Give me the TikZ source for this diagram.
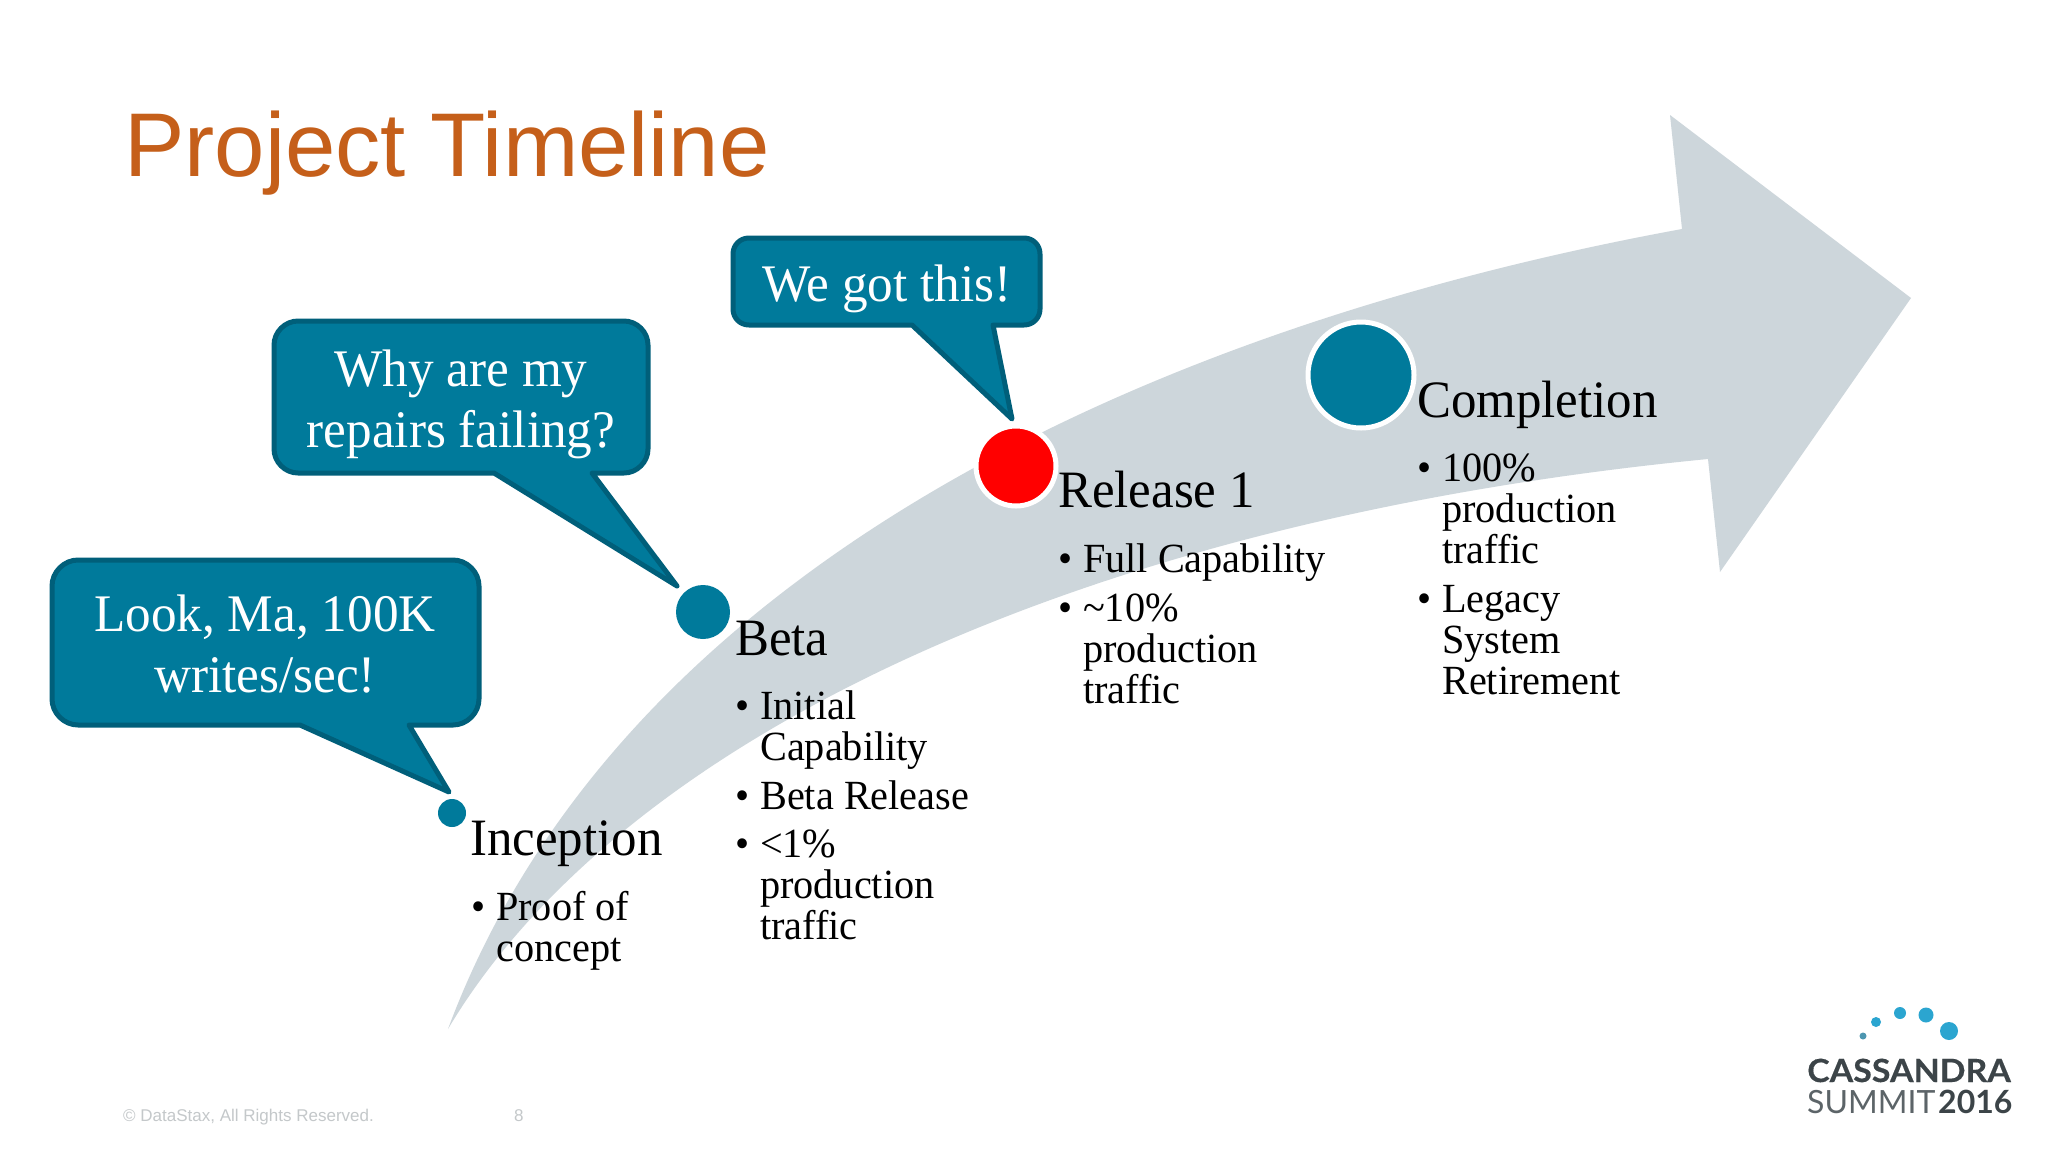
\documentclass[tikz,border=0pt]{standalone}
\usepackage{fontspec}
\setmainfont[FakeStretch=0.97]{Liberation Serif}
\newfontfamily\arialf{Liberation Sans}
\newfontfamily\logof{Lato}
\newfontfamily\logow[FakeStretch=1.06,FakeBold=0.3]{Lato Bold}
\definecolor{teal1}{HTML}{007A9B}
\definecolor{teal2}{HTML}{005F7A}
\definecolor{arrowgrey}{HTML}{CDD6DB}
\definecolor{titlec}{HTML}{C55F1A}
\definecolor{footc}{HTML}{C4C8CA}
\definecolor{logod}{HTML}{3C4448}
\definecolor{logom}{HTML}{5C6468}
\definecolor{logob}{HTML}{2BA5D0}
\newcommand{\bul}{\makebox[25pt][l]{•}}
\newcommand{\ind}{\hspace*{25pt}}
\tikzset{
  x=1pt,y=-1pt,
  callout/.style={fill=teal1,draw=teal2,line width=5pt,line join=round},
  calltext/.style={text=white,font=\fontsize{52.8}{61}\selectfont,align=center,inner sep=0pt},
  milestone/.style={circle,fill=teal1,inner sep=0pt,draw=white},
  heading/.style={anchor=base west,inner sep=0pt,font=\fontsize{52.5}{52}\selectfont},
  items/.style={anchor=base west,inner sep=0pt,align=left,font=\fontsize{41.5}{41}\selectfont},
  foot/.style={anchor=base west,inner sep=0pt,text=footc,font=\arialf\fontsize{17}{17}\selectfont},
  dot/.style={circle,fill=logob,inner sep=0pt},
  logotext/.style={anchor=base west,inner sep=0pt,text=logod}
}
\begin{document}
\begin{tikzpicture}
\useasboundingbox (0,0) rectangle (2048,1152);
\fill[white] (0,0) rectangle (2048,1152);
% arrow
\fill[arrowgrey] (448,1029) .. controls (615,580) and (1130,330) .. (1682,229)
  -- (1670,115) -- (1911,298) -- (1720,572) -- (1708,459)
  .. controls (1080,520) and (620,740) .. (448,1029) -- cycle;
% milestones
\node[milestone,minimum size=28pt,line width=0pt,draw=none] (m1) at (452,813) {};
\node[milestone,minimum size=54pt,line width=0pt,draw=none] (m2) at (703,612) {};
\node[milestone,minimum size=80pt,fill=red,line width=5pt] (m3) at (1016,466) {};
\node[milestone,minimum size=106pt,line width=5pt] (m4) at (1361,375) {};
% callouts
\draw[callout] (449,792) -- (300,725) -- (78,725) .. controls (64,725) and (52,713) .. (52,699)
  -- (52,586) .. controls (52,572) and (64,560) .. (78,560)
  -- (453,560) .. controls (467,560) and (479,572) .. (479,586)
  -- (479,699) .. controls (479,713) and (467,725) .. (453,725)
  -- (409,725) -- cycle;
\draw[callout] (677,586) -- (494,473) -- (298,473) .. controls (285,473) and (274,462) .. (274,449)
  -- (274,345) .. controls (274,332) and (285,321) .. (298,321)
  -- (624,321) .. controls (637,321) and (648,332) .. (648,345)
  -- (648,449) .. controls (648,462) and (637,473) .. (624,473)
  -- (592,473) -- cycle;
\draw[callout] (1012,419) -- (912,325) -- (749,325) .. controls (740,325) and (733,318) .. (733,309)
  -- (733,254) .. controls (733,245) and (740,238) .. (749,238)
  -- (1024,238) .. controls (1033,238) and (1040,245) .. (1040,254)
  -- (1040,309) .. controls (1040,318) and (1033,325) .. (1024,325)
  -- (993,325) -- cycle;
\node[calltext] (c1) at (265,644) {Look, Ma, 100K\\writes/sec!};
\node[calltext] (c2) at (461,404) {Why are my\\repairs failing?};
\node[calltext] (c3) at (887,289) {We got this!};
% title
\node[anchor=base west,inner sep=0pt,text=titlec,font=\arialf\fontsize{90.5}{90}\selectfont] (title) at (124,176) {Project Timeline};
% headings
\node[heading] (h1) at (470,855) {Inception};
\node[heading] (h2) at (735,655) {Beta};
\node[heading] (h3) at (1058,507) {Release 1};
\node[heading] (h4) at (1417,417) {Completion};
% items
\node[items] (i1) at (471,961) {\bul Proof of\\\ind concept};
\node[items] (i2a) at (735,760) {\bul Initial\\\ind Capability};
\node[items] (i2b) at (735,809) {\bul Beta Release};
\node[items] (i2c) at (735,939) {\bul <1\%\\\ind production\\\ind traffic};
\node[items] (i3a) at (1058,572) {\bul Full Capability};
\node[items] (i3b) at (1058,703) {\bul \textasciitilde 10\%\\\ind production\\\ind traffic};
\node[items] (i4a) at (1417,563) {\bul 100\%\\\ind production\\\ind traffic};
\node[items] (i4b) at (1417,694) {\bul Legacy\\\ind System\\\ind Retirement};
% footer
\node[foot] (f1) at (123,1121) {© DataStax, All Rights Reserved.};
\node[foot] (f2) at (514,1121) {8};
% logo
\node[dot,minimum size=7pt,fill=logob!60!gray] (d1) at (1863,1036) {};
\node[dot,minimum size=10pt] (d2) at (1876,1022) {};
\node[dot,minimum size=12pt] (d3) at (1900,1013) {};
\node[dot,minimum size=15pt] (d4) at (1926,1015) {};
\node[dot,minimum size=18pt] (d5) at (1949,1031) {};
\node[logotext,font=\logow\fontsize{32}{32}\selectfont] (l1) at (1807,1082) {CASSANDRA};
\node[logotext,text=logom,font=\logof\fontsize{32}{32}\selectfont] (l2) at (1807,1113) {SUMMIT};
\node[logotext,font=\logof\bfseries\fontsize{32}{32}\selectfont] (l3) at (1938,1113) {2016};
\end{tikzpicture}
\end{document}
